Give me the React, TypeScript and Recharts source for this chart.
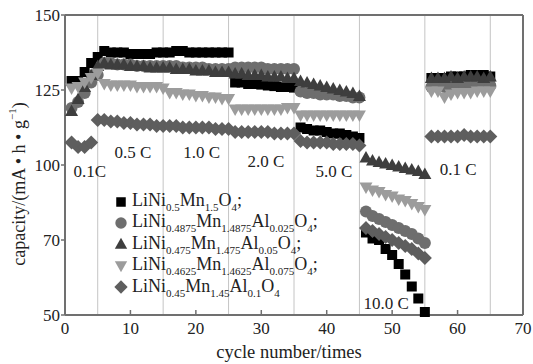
import React from 'react';
import { LineChart, Line, XAxis, YAxis, ReferenceLine, ReferenceDot, Legend, Customized } from 'recharts';

// cycle numbers 1..65
const cycles: number[] = Array.from({ length: 65 }, (_, i) => i + 1);

// LiNi0.5Mn1.5O4 (black squares)
const s1 = [
  128, 128, 131, 134, 136,
  138, 137.5, 137.5, 137.5, 137, 137, 137, 137, 137.5, 137.5,
  137.5, 138, 138, 137.5, 137.5, 137.5, 137.5, 137.5, 137.5, 137.5,
  127.5, 127.5, 127, 127, 126.8, 126.5, 126.3, 126, 126, 125.8,
  112.5, 112, 111.5, 111.5, 111, 110.5, 110.5, 110, 109.5, 109,
  77.5, 75.5, 75, 72, 70, 67, 63.5, 59.5, 55.5, 51,
  129, 129, 129, 129.5, 129.5, 129.5, 130, 130, 130, 129.5,
];
// LiNi0.4875Mn1.4875Al0.025O4 (circles)
const s2 = [
  119, 121, 124, 127.5, 130,
  134, 134, 133.5, 133.5, 133.5, 133, 133, 133, 133, 133,
  133, 133, 132.5, 132.5, 132.5, 132.5, 132, 132, 132, 132,
  132.5, 132.5, 132.5, 132.5, 132.5, 132, 132, 132, 132, 132,
  124.5, 124, 124, 123.5, 123.5, 123.5, 123, 123, 122.5, 122.5,
  84.5, 83, 82, 81, 80, 79, 78, 77, 75.5, 74,
  126, 126.5, 126, 126.5, 126.5, 126.5, 126.5, 126.5, 126.5, 126.5,
];
// LiNi0.475Mn1.475Al0.05O4 (triangles up)
const s3 = [
  118, 122, 126, 130, 133,
  134, 133.5, 133.5, 133.5, 133, 133, 133, 132.5, 132.5, 132.5,
  132.5, 132, 132, 132, 131.5, 131.5, 131.5, 131, 131, 131,
  130.5, 130.5, 130, 130, 130, 129.5, 129.5, 129.5, 129, 129,
  128, 127.5, 127, 126.5, 126, 125.5, 125, 124.5, 124, 123,
  102.5, 101.5, 101, 100.5, 100, 99.5, 99, 98.5, 98, 97,
  129, 129, 129, 129.5, 129, 129.5, 129.5, 129.5, 129, 129.5,
];
// LiNi0.4625Mn1.4625Al0.075O4 (triangles down)
const s4 = [
  125.5, 126, 127.5, 129, 130.5,
  127, 126.5, 126.5, 126.5, 126.5, 126, 126, 126, 126, 125.5,
  124, 124, 123.5, 123.5, 123, 123, 122.5, 122.5, 122, 122,
  118.5, 118.5, 118.5, 118.5, 118.5, 118.5, 118.5, 118.5, 119, 119,
  116.5, 116.5, 116.5, 116.5, 116.5, 116.5, 116.5, 116.5, 116.5, 116.5,
  92.5, 91.5, 91, 90, 89.5, 88.5, 88, 87, 86, 85,
  124.5, 124.5, 122.5, 123.5, 124, 124, 124, 124.5, 124.5, 124.5,
];
// LiNi0.45Mn1.45Al0.1O4 (diamonds)
const s5 = [
  107.5, 106, 106, 107.5, 115,
  115, 114.5, 114.5, 114, 114, 113.5, 113.5, 113.5, 113, 113,
  113, 113, 112.5, 112.5, 112.5, 112.5, 112.5, 112, 112, 112,
  111, 111, 111, 111, 111, 111, 110.5, 110.5, 110.5, 110.5,
  108, 107.5, 107.5, 107.5, 107.5, 107, 107, 107, 107, 106.5,
  79, 78, 77, 76, 75, 74, 73, 72, 70.5, 69,
  109.5, 109.5, 109.5, 109.5, 109.5, 110, 109.5, 109.5, 109.5, 109.5,
];

const xTicks = [0, 10, 20, 30, 40, 50, 60, 70];
const yTicks = [50, 75, 100, 125, 150];
const yTickLabels = ['50', '70', '100', '125', '150'];
const gridCycles = [5, 15, 25, 35, 45, 55, 65];

const rateLabels = ['0.1C', '0.5 C', '1.0 C', '2.0 C', '5.0 C', '10.0 C', '0.1 C'];
const rateX = [3.8, 10.4, 20.9, 30.7, 41.1, 49.1, 60.1];
const rateY = [98, 104.3, 104.3, 101.3, 98, 54, 98.7];

type Seg = [string, number];
const legendNames: Seg[][] = [
  [['LiNi', 0], ['0.5', 1], ['Mn', 0], ['1.5', 1], ['O', 0], ['4', 1], [';', 0]],
  [['LiNi', 0], ['0.4875', 1], ['Mn', 0], ['1.4875', 1], ['Al', 0], ['0.025', 1], ['O', 0], ['4', 1], [';', 0]],
  [['LiNi', 0], ['0.475', 1], ['Mn', 0], ['1.475', 1], ['Al', 0], ['0.05', 1], ['O', 0], ['4', 1], [';', 0]],
  [['LiNi', 0], ['0.4625', 1], ['Mn', 0], ['1.4625', 1], ['Al', 0], ['0.075', 1], ['O', 0], ['4', 1], [';', 0]],
  [['LiNi', 0], ['0.45', 1], ['Mn', 0], ['1.45', 1], ['Al', 0], ['0.1', 1], ['O', 0], ['4', 1]],
];
const seriesKeys = ['s1', 's2', 's3', 's4', 's5'];
const seriesColors = ['#000000', '#6e6e6e', '#3e3e3e', '#9c9c9c', '#5e5e5e'];
const seriesShapes = ['square', 'circle', 'triUp', 'triDown', 'diamond'];

const data = cycles.map((c, i) => ({
  cycle: c,
  s1: s1[i],
  s2: s2[i],
  s3: s3[i],
  s4: s4[i],
  s5: s5[i],
}));

const FONT = '"Liberation Serif", "Times New Roman", serif';
const AXIS = '#707070';

function Marker({ shape, cx, cy, color, s = 1 }: any) {
  if (cx == null || cy == null) return null;
  switch (shape) {
    case 'square':
      return <rect x={cx - 5 * s} y={cy - 5 * s} width={10 * s} height={10 * s} fill={color} />;
    case 'circle':
      return <circle cx={cx} cy={cy} r={6 * s} fill={color} />;
    case 'triUp':
      return (
        <polygon
          points={`${cx},${cy - 6.5 * s} ${cx + 6.5 * s},${cy + 5 * s} ${cx - 6.5 * s},${cy + 5 * s}`}
          fill={color}
        />
      );
    case 'triDown':
      return (
        <polygon
          points={`${cx - 6.5 * s},${cy - 5 * s} ${cx + 6.5 * s},${cy - 5 * s} ${cx},${cy + 6.5 * s}`}
          fill={color}
        />
      );
    default:
      return (
        <polygon
          points={`${cx},${cy - 7 * s} ${cx + 7 * s},${cy} ${cx},${cy + 7 * s} ${cx - 7 * s},${cy}`}
          fill={color}
        />
      );
  }
}

const XTick = (props: any) => {
  const { x, y, payload } = props;
  return (
    <g>
      <line x1={x} x2={x} y1={y} y2={y - 5} stroke={AXIS} strokeWidth={1.5} />
      <text x={x} y={y + 13} textAnchor="middle" dominantBaseline="central" fontSize={17} fill="#222">
        {payload.value}
      </text>
    </g>
  );
};

const LegendContent = () => (
  <div style={{ fontFamily: FONT, fontSize: 18, color: '#222', lineHeight: '21.4px' }}>
    {legendNames.map((segs, i) => (
      <div key={i} style={{ display: 'flex', alignItems: 'center', height: 21.4, whiteSpace: 'nowrap' }}>
        <svg width={16} height={16} style={{ marginRight: 3 }}>
          <Marker shape={seriesShapes[i]} cx={8} cy={8} color={seriesColors[i]} s={0.95} />
        </svg>
        <span>
          {segs.map(([t, sub], j) =>
            sub ? (
              <span key={j} style={{ fontSize: 11, position: 'relative', top: 5 }}>{t}</span>
            ) : (
              <span key={j}>{t}</span>
            )
          )}
        </span>
      </div>
    ))}
  </div>
);

const AxisTitles = () => (
  <g fill="#222">
    <text x={289} y={352} textAnchor="middle" dominantBaseline="central" fontSize={18.5}>
      cycle number/times
    </text>
    <text
      x={0}
      y={0}
      transform="translate(19,184) rotate(-90)"
      textAnchor="middle"
      dominantBaseline="central"
      fontSize={18}
    >
      capacity/(mA • h • g<tspan fontSize={11} dy={-7}>−1</tspan><tspan dy={7}>)</tspan>
    </text>
  </g>
);

export default function App() {
  return (
    <div style={{ width: 533, height: 364, position: 'relative', fontFamily: FONT }}>
      <style>{`body{margin:0;} svg text, svg tspan { font-family: "Liberation Serif", "Times New Roman", serif !important; }`}</style>
      <LineChart
        width={533}
        height={364}
        data={data}
        margin={{ top: 15, right: 10, left: 0, bottom: 0 }}
      >
        {gridCycles.map((g) => (
          <ReferenceLine key={g} x={g} stroke="#c4c4c4" strokeWidth={1} />
        ))}
        <ReferenceLine y={150} stroke={AXIS} strokeWidth={2} />
        <ReferenceLine x={70} stroke={AXIS} strokeWidth={2} />
        <XAxis
          dataKey="cycle"
          type="number"
          domain={[0, 70]}
          ticks={xTicks}
          height={49}
          tickSize={0}
          tickMargin={0}
          tick={<XTick />}
          axisLine={{ stroke: AXIS, strokeWidth: 2 }}
          interval={0}
        />
        <YAxis
          type="number"
          domain={[50, 150]}
          ticks={yTicks}
          width={65}
          tickSize={4}
          tickMargin={1}
          interval={0}
          tickFormatter={(v: number) => yTickLabels[yTicks.indexOf(v)]}
          tick={{ fontSize: 17, fill: '#222' }}
          tickLine={{ stroke: AXIS, strokeWidth: 1.5 }}
          axisLine={{ stroke: AXIS, strokeWidth: 2 }}
        />
        {seriesKeys.map((k, i) => (
          <Line
            key={k}
            dataKey={k}
            name={k}
            stroke="none"
            isAnimationActive={false}
            activeDot={false}
            dot={(p: any) => (
              <Marker key={`${k}-${p.index}`} shape={seriesShapes[i]} cx={p.cx} cy={p.cy} color={seriesColors[i]} />
            )}
          />
        ))}
        {rateLabels.map((t, i) => (
          <ReferenceDot
            key={i}
            x={rateX[i]}
            y={rateY[i]}
            r={0}
            fill="none"
            stroke="none"
            label={{ value: t, position: 'center', fontSize: 17, fill: '#222' }}
          />
        ))}
        <Customized component={AxisTitles} />
        <Legend
          layout="vertical"
          verticalAlign="middle"
          align="center"
          content={<LegendContent />}
          wrapperStyle={{ position: 'absolute', left: 113, top: 191, width: 'auto', height: 'auto' }}
        />
      </LineChart>
    </div>
  );
}
